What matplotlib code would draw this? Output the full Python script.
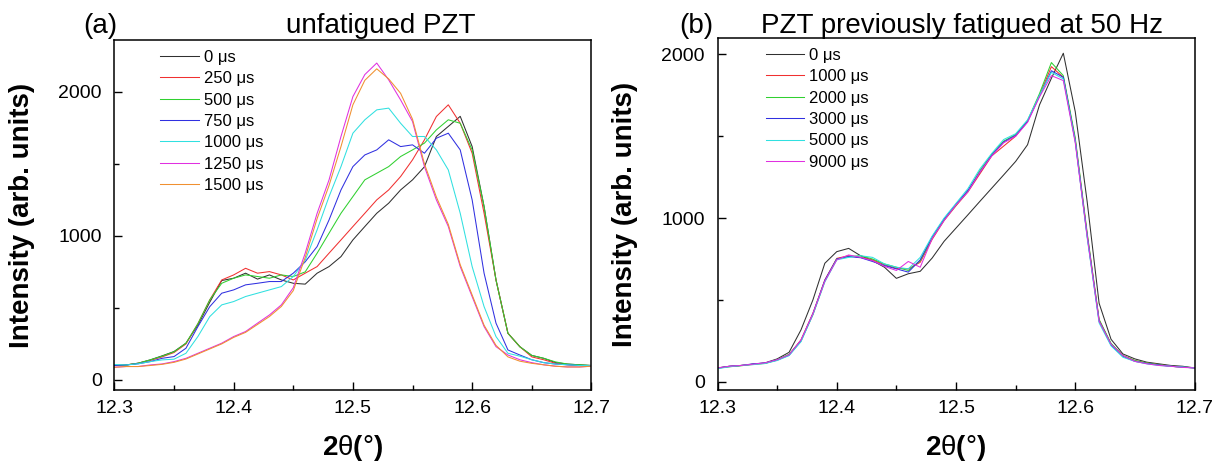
import matplotlib
matplotlib.use("Agg")
import matplotlib.pyplot as plt
from matplotlib.ticker import MultipleLocator, FormatStrFormatter

plt.rcParams['font.family'] = ['Liberation Sans', 'DejaVu Sans']
plt.rcParams['mathtext.fontset'] = 'custom'
plt.rcParams['mathtext.rm'] = 'Liberation Sans'
plt.rcParams['mathtext.bf'] = 'Liberation Sans:bold'
plt.rcParams['mathtext.it'] = 'Liberation Sans:italic'

two_theta = [12.30, 12.31, 12.32, 12.33, 12.34, 12.35, 12.36, 12.37, 12.38, 12.39,
             12.40, 12.41, 12.42, 12.43, 12.44, 12.45, 12.46, 12.47, 12.48, 12.49,
             12.50, 12.51, 12.52, 12.53, 12.54, 12.55, 12.56, 12.57, 12.58, 12.59,
             12.60, 12.61, 12.62, 12.63, 12.64, 12.65, 12.66, 12.67, 12.68, 12.69, 12.70]

# (a) unfatigued PZT
labels_a = ["0 \u03bcs", "250 \u03bcs", "500 \u03bcs", "750 \u03bcs", "1000 \u03bcs", "1250 \u03bcs", "1500 \u03bcs"]
a_0 = [100, 104, 116, 139, 167, 197, 255, 380, 540, 690, 706, 741, 700, 729, 694, 671, 665, 741, 787, 856,
       972, 1065, 1157, 1227, 1319, 1389, 1480, 1690, 1760, 1830, 1620, 1204, 694, 324, 230, 170, 150, 120, 110, 105, 100]
a_250 = [100, 104, 116, 135, 160, 190, 250, 390, 556, 694, 729, 775, 741, 752, 729, 694, 741, 787, 880, 972,
         1065, 1157, 1250, 1319, 1412, 1528, 1667, 1829, 1910, 1782, 1574, 1157, 694, 324, 231, 160, 140, 115, 105, 100, 100]
a_500 = [100, 104, 116, 139, 165, 195, 255, 390, 556, 671, 706, 729, 718, 706, 729, 718, 750, 880, 1019, 1157,
         1273, 1389, 1435, 1481, 1551, 1597, 1644, 1736, 1806, 1782, 1597, 1204, 694, 324, 231, 170, 150, 125, 110, 105, 100]
a_750 = [100, 104, 112, 127, 150, 162, 220, 370, 509, 602, 625, 660, 671, 683, 683, 741, 820, 926, 1111, 1319,
         1481, 1562, 1597, 1667, 1620, 1632, 1574, 1678, 1713, 1597, 1250, 741, 394, 208, 173, 140, 120, 110, 105, 100, 100]
a_1000 = [107, 104, 112, 127, 139, 144, 185, 301, 440, 521, 544, 579, 602, 625, 648, 718, 830, 1042, 1273, 1481,
          1713, 1806, 1875, 1887, 1782, 1690, 1690, 1597, 1458, 1157, 787, 509, 301, 185, 165, 140, 120, 110, 105, 100, 100]
a_1250 = [88, 93, 93, 104, 111, 127, 150, 185, 220, 255, 301, 336, 394, 451, 521, 640, 880, 1157, 1389, 1690,
          1967, 2120, 2200, 2083, 1944, 1794, 1481, 1250, 1065, 787, 578, 370, 231, 173, 140, 120, 105, 95, 90, 90, 95]
a_1500 = [88, 93, 93, 100, 108, 122, 145, 180, 215, 250, 295, 330, 385, 440, 510, 620, 850, 1120, 1350, 1620,
          1910, 2080, 2160, 2090, 1990, 1810, 1500, 1270, 1080, 800, 590, 380, 240, 160, 130, 115, 105, 95, 90, 90, 95]

# (b) PZT previously fatigued at 50 Hz
labels_b = ["0 \u03bcs", "1000 \u03bcs", "2000 \u03bcs", "3000 \u03bcs", "5000 \u03bcs", "9000 \u03bcs"]
b_0 = [85, 95, 100, 108, 116, 140, 180, 317, 500, 724, 795, 815, 770, 740, 700, 632, 660, 675, 756, 858,
       939, 1020, 1102, 1183, 1264, 1346, 1448, 1691, 1854, 2007, 1650, 1100, 480, 260, 170, 140, 120, 110, 100, 95, 85]
b_1000 = [83, 93, 100, 106, 114, 132, 165, 256, 419, 622, 754, 770, 760, 745, 715, 693, 690, 730, 870, 985,
          1075, 1160, 1270, 1380, 1440, 1500, 1590, 1750, 1925, 1860, 1480, 900, 380, 230, 160, 130, 115, 105, 95, 90, 85]
b_2000 = [85, 92, 98, 108, 112, 135, 168, 250, 410, 615, 750, 765, 770, 750, 720, 700, 680, 740, 880, 990,
          1080, 1165, 1290, 1390, 1470, 1510, 1595, 1760, 1950, 1870, 1490, 910, 380, 235, 160, 130, 115, 105, 95, 90, 85]
b_3000 = [83, 95, 100, 110, 115, 133, 162, 250, 415, 620, 750, 765, 758, 735, 710, 690, 670, 745, 885, 995,
          1085, 1170, 1280, 1385, 1465, 1505, 1590, 1745, 1900, 1860, 1470, 890, 370, 225, 155, 125, 112, 103, 95, 90, 85]
b_5000 = [80, 92, 100, 105, 112, 130, 160, 245, 410, 610, 745, 760, 770, 760, 720, 700, 690, 760, 890, 1000,
          1090, 1180, 1300, 1395, 1480, 1515, 1600, 1750, 1890, 1850, 1470, 880, 360, 220, 150, 125, 110, 100, 95, 90, 85]
b_9000 = [85, 95, 100, 108, 116, 135, 165, 255, 415, 615, 745, 775, 760, 740, 705, 680, 735, 700, 875, 985,
          1080, 1160, 1280, 1380, 1460, 1500, 1585, 1740, 1870, 1840, 1460, 890, 370, 230, 160, 125, 110, 100, 95, 88, 85]

colors_a = ['#303030', '#f03030', '#30d030', '#3030e0', '#30e0e0', '#e030e0', '#f09030']
colors_b = ['#303030', '#f03030', '#30d030', '#3030e0', '#30e0e0', '#e030e0']

fig = plt.figure(figsize=(12.2, 4.68), dpi=100)
ax1 = fig.add_axes([114.4 / 1220, 78 / 468, 477 / 1220, 350 / 468])
ax2 = fig.add_axes([717.5 / 1220, 78 / 468, 477 / 1220, 352 / 468])

for ys, c, lab in zip([a_0, a_250, a_500, a_750, a_1000, a_1250, a_1500], colors_a, labels_a):
    ax1.plot(two_theta, ys, color=c, lw=0.75, label=lab)
for ys, c, lab in zip([b_0, b_1000, b_2000, b_3000, b_5000, b_9000], colors_b, labels_b):
    ax2.plot(two_theta, ys, color=c, lw=0.75, label=lab)

ax1.set_ylim(-70, 2360)
ax2.set_ylim(-50, 2100)

xlabel_text = r'$\mathbf{2}$' + '\u03b8' + r'$\mathbf{(}$' + '\u00b0' + r'$\mathbf{)}$'

for ax, bx in ((ax1, 0.075), (ax2, 0.08)):
    ax.set_xlim(12.3, 12.7)
    ax.xaxis.set_major_locator(MultipleLocator(0.1))
    ax.xaxis.set_minor_locator(MultipleLocator(0.05))
    ax.xaxis.set_major_formatter(FormatStrFormatter('%.1f'))
    ax.yaxis.set_major_locator(MultipleLocator(1000))
    ax.yaxis.set_minor_locator(MultipleLocator(500))
    ax.tick_params(which='both', direction='in', top=False, right=False, labelsize=14, width=1.0)
    ax.tick_params(which='major', length=6)
    ax.tick_params(axis='x', which='major', pad=7)
    ax.tick_params(axis='y', which='major', pad=9)
    ax.tick_params(which='minor', length=3.5)
    for s in ax.spines.values():
        s.set_linewidth(1.1)
    ax.set_xlabel(xlabel_text, fontsize=20, labelpad=12)
    ax.set_ylabel("Intensity (arb. units)", fontsize=20, fontweight='bold', labelpad=17)
    ax.legend(loc='upper left', bbox_to_anchor=(bx, 1.0), frameon=False, fontsize=12,
              handlelength=2.3, labelspacing=0.38, handletextpad=0.3, borderaxespad=0.2)

fig.text(100 / 1220, 0.9295, "(a)", fontsize=20, ha='center', va='baseline')
fig.text(381 / 1220, 0.9295, "unfatigued PZT", fontsize=20, ha='center', va='baseline')
fig.text(696 / 1220, 0.9295, "(b)", fontsize=20, ha='center', va='baseline')
fig.text(962 / 1220, 0.9295, "PZT previously fatigued at 50 Hz", fontsize=20, ha='center', va='baseline')

fig.savefig("out.png", dpi=100)
